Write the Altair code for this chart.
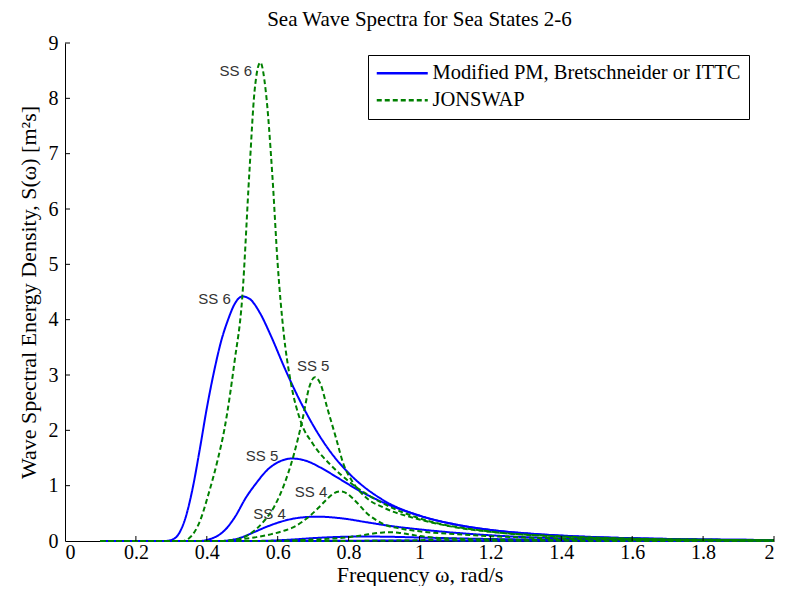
import altair as alt
import pandas as pd

# ---------------- data ----------------
models = ["Modified PM, Bretschneider or ITTC", "JONSWAP"]

# Modified PM / Bretschneider / ITTC (blue, solid)
pm_ss6_w = [0.10, 0.28, 0.30, 0.32, 0.34, 0.36, 0.38, 0.40, 0.42, 0.44, 0.46, 0.48, 0.50, 0.52, 0.55, 0.58, 0.62, 0.66, 0.70, 0.75, 0.80, 0.90, 1.00, 1.10, 1.20, 1.40, 1.60, 1.80, 2.00]
pm_ss6_s = [0.0, 0.0, 0.02, 0.12, 0.42, 0.95, 1.65, 2.40, 3.05, 3.60, 4.00, 4.30, 4.42, 4.38, 4.12, 3.72, 3.12, 2.57, 2.09, 1.60, 1.23, 0.73, 0.46, 0.30, 0.20, 0.095, 0.05, 0.028, 0.017]

pm_ss5_w = [0.10, 0.38, 0.40, 0.42, 0.45, 0.48, 0.51, 0.54, 0.57, 0.60, 0.64, 0.68, 0.72, 0.77, 0.83, 0.90, 0.96, 1.02, 1.10, 1.20, 1.30, 1.50, 1.70, 2.00]
pm_ss5_s = [0.0, 0.0, 0.02, 0.06, 0.19, 0.44, 0.78, 1.05, 1.28, 1.42, 1.49, 1.45, 1.33, 1.14, 0.91, 0.69, 0.54, 0.42, 0.30, 0.20, 0.14, 0.07, 0.038, 0.018]

pm_ss4_w = [0.10, 0.44, 0.47, 0.50, 0.53, 0.57, 0.61, 0.65, 0.71, 0.78, 0.85, 0.92, 1.00, 1.08, 1.16, 1.28, 1.42, 1.60, 1.80, 2.00]
pm_ss4_s = [0.0, 0.0, 0.02, 0.07, 0.15, 0.26, 0.35, 0.41, 0.44, 0.41, 0.34, 0.27, 0.21, 0.16, 0.12, 0.075, 0.045, 0.025, 0.014, 0.009]

pm_ss3_w = [0.10, 0.50, 0.55, 0.60, 0.65, 0.70, 0.76, 0.84, 0.92, 1.00, 1.10, 1.20, 1.35, 1.50, 1.70, 2.00]
pm_ss3_s = [0.0, 0.0, 0.002, 0.012, 0.03, 0.052, 0.071, 0.081, 0.076, 0.063, 0.048, 0.036, 0.023, 0.014, 0.008, 0.0035]

pm_ss2_w = [0.10, 0.60, 0.70, 0.80, 0.88, 0.94, 1.03, 1.13, 1.25, 1.40, 1.60, 1.80, 2.00]
pm_ss2_s = [0.0, 0.0, 0.001, 0.0043, 0.0072, 0.0085, 0.0078, 0.0063, 0.0045, 0.003, 0.0017, 0.0011, 0.0007]

# JONSWAP (green, dashed)
js_ss6_w = [0.10, 0.33, 0.35, 0.38, 0.404, 0.43, 0.45, 0.478, 0.50, 0.52, 0.535, 0.551, 0.566, 0.585, 0.60, 0.617, 0.636, 0.665, 0.70, 0.75, 0.80, 0.90, 1.00, 1.20, 1.40, 1.60, 1.80, 2.00]
js_ss6_s = [0.0, 0.0, 0.05, 0.35, 0.83, 1.45, 2.03, 3.23, 4.40, 6.65, 8.15, 8.65, 8.15, 6.60, 5.00, 3.75, 2.90, 2.16, 1.75, 1.37, 1.08, 0.67, 0.41, 0.17, 0.085, 0.044, 0.024, 0.014]

js_ss5_w = [0.10, 0.45, 0.48, 0.52, 0.56, 0.59, 0.617, 0.645, 0.67, 0.69, 0.705, 0.72, 0.74, 0.765, 0.785, 0.81, 0.85, 0.90, 1.00, 1.10, 1.20, 1.40, 1.60, 1.80, 2.00]
js_ss5_s = [0.0, 0.0, 0.02, 0.12, 0.35, 0.62, 1.00, 1.55, 2.20, 2.80, 2.96, 2.85, 2.40, 1.85, 1.40, 1.08, 0.78, 0.60, 0.39, 0.25, 0.165, 0.078, 0.04, 0.022, 0.013]

js_ss4_w = [0.10, 0.44, 0.49, 0.54, 0.58, 0.62, 0.645, 0.67, 0.692, 0.715, 0.738, 0.758, 0.777, 0.795, 0.81, 0.83, 0.85, 0.875, 0.90, 0.95, 1.00, 1.10, 1.20, 1.40, 1.60, 1.80, 2.00]
js_ss4_s = [0.0, 0.0, 0.03, 0.07, 0.12, 0.19, 0.25, 0.35, 0.46, 0.60, 0.75, 0.86, 0.895, 0.86, 0.78, 0.65, 0.51, 0.39, 0.30, 0.22, 0.175, 0.125, 0.088, 0.045, 0.025, 0.014, 0.009]

js_ss3_w = [0.10, 0.55, 0.62, 0.68, 0.73, 0.77, 0.815, 0.855, 0.89, 0.915, 0.94, 0.965, 1.00, 1.055, 1.14, 1.30, 1.45, 1.65, 1.85, 2.00]
js_ss3_s = [0.0, 0.0, 0.008, 0.02, 0.035, 0.05, 0.082, 0.12, 0.15, 0.16, 0.15, 0.125, 0.09, 0.055, 0.035, 0.022, 0.015, 0.008, 0.0045, 0.0033]

js_ss2_w = [0.10, 0.65, 0.75, 0.85, 0.92, 0.98, 1.03, 1.07, 1.11, 1.18, 1.30, 1.45, 1.60, 1.80, 2.00]
js_ss2_s = [0.0, 0.0, 0.0008, 0.0025, 0.006, 0.011, 0.017, 0.015, 0.009, 0.005, 0.0032, 0.0022, 0.0015, 0.0009, 0.0006]

# annotation labels
ann_label = ["SS 6", "SS 6", "SS 5", "SS 5", "SS 4", "SS 4"]
ann_w = [0.482, 0.422, 0.700, 0.556, 0.694, 0.577]
ann_s = [8.49, 4.38, 3.17, 1.53, 0.88, 0.49]

x_tick_vals = [0, 0.2, 0.4, 0.6, 0.8, 1.0, 1.2, 1.4, 1.6, 1.8, 2.0]
y_tick_vals = [0, 1, 2, 3, 4, 5, 6, 7, 8, 9]

# ---------------- build table ----------------
curves = [
    (models[0], "PM SS2", pm_ss2_w, pm_ss2_s),
    (models[0], "PM SS3", pm_ss3_w, pm_ss3_s),
    (models[0], "PM SS4", pm_ss4_w, pm_ss4_s),
    (models[0], "PM SS5", pm_ss5_w, pm_ss5_s),
    (models[0], "PM SS6", pm_ss6_w, pm_ss6_s),
    (models[1], "JS SS2", js_ss2_w, js_ss2_s),
    (models[1], "JS SS3", js_ss3_w, js_ss3_s),
    (models[1], "JS SS4", js_ss4_w, js_ss4_s),
    (models[1], "JS SS5", js_ss5_w, js_ss5_s),
    (models[1], "JS SS6", js_ss6_w, js_ss6_s),
]
rows = []
for model, name, ws, ss in curves:
    for w, s in zip(ws, ss):
        rows.append({"omega": w, "S": s, "model": model, "curve": name})
df = pd.DataFrame(rows)
ann_df = pd.DataFrame({"omega": ann_w, "S": ann_s, "label": ann_label})
xt_df = pd.DataFrame({"omega": x_tick_vals[1:]})
yt_df = pd.DataFrame({"S": y_tick_vals[1:]})

W, H = 709, 498
SERIF = "Liberation Serif"
xs = alt.Scale(domain=[0, 2], nice=False, zero=False)
ys = alt.Scale(domain=[0, 9], nice=False)

x_axis = alt.Axis(values=x_tick_vals, format="~g", title="Frequency ω, rad/s",
                  ticks=False, grid=False, domainColor="black", domainWidth=1,
                  labelFont=SERIF, labelFontSize=20, labelColor="black", labelPadding=1,
                  titleFont=SERIF, titleFontSize=22, titleFontWeight="normal",
                  titleColor="black", titlePadding=2)
y_axis = alt.Axis(values=y_tick_vals, format="d",
                  title="Wave Spectral Energy Density, S(ω) [m²s]",
                  ticks=False, grid=False, domainColor="black", domainWidth=1,
                  labelFont=SERIF, labelFontSize=20, labelColor="black", labelPadding=7,
                  titleFont=SERIF, titleFontSize=22, titleFontWeight="normal",
                  titleColor="black", titlePadding=8)

legend = alt.Legend(title=None, orient="none", legendX=303, legendY=12,
                    fillColor="white", strokeColor="black", padding=8,
                    symbolType="M-3,0H3", symbolSize=289, symbolStrokeWidth=2.6,
                    symbolOffset=16, labelOffset=20, labelFont=SERIF,
                    labelFontSize=20.5, labelColor="black", labelLimit=600,
                    rowPadding=6, cornerRadius=0)

lines = alt.Chart(df).mark_line(interpolate="monotone", strokeWidth=2).encode(
    x=alt.X("omega:Q", scale=xs, axis=x_axis),
    y=alt.Y("S:Q", scale=ys, axis=y_axis),
    color=alt.Color("model:N", scale=alt.Scale(domain=models, range=["#0000ff", "#008000"]),
                    legend=legend),
    strokeDash=alt.StrokeDash("model:N", scale=alt.Scale(domain=models, range=[[1, 0], [5, 3]]),
                              legend=legend),
    detail="curve:N",
)

xticks = alt.Chart(xt_df).mark_rule(color="black", strokeWidth=1).encode(
    x=alt.X("omega:Q"),
    y=alt.YDatum(0),
    y2=alt.value(H - 5),
)
yticks = alt.Chart(yt_df).mark_rule(color="black", strokeWidth=1).encode(
    y=alt.Y("S:Q"),
    x=alt.XDatum(0),
    x2=alt.value(5),
)

ann = alt.Chart(ann_df).mark_text(font="Liberation Sans", fontSize=15, color="#333333",
                                  align="center", baseline="middle").encode(
    x=alt.X("omega:Q"),
    y=alt.Y("S:Q"),
    text="label:N",
)

chart = alt.layer(lines, xticks, yticks, ann).properties(
    width=W, height=H,
    background="white",
    title=alt.TitleParams("Sea Wave Spectra for Sea States 2-6", font=SERIF, fontSize=21,
                          fontWeight="normal", color="black", anchor="middle", offset=3),
    autosize=alt.AutoSizeParams(type="none"),
    padding={"left": 57, "top": 35, "right": 5, "bottom": 45},
).configure_view(stroke=None)

chart.save("out.html", embed_options={"renderer": "svg", "actions": False})
